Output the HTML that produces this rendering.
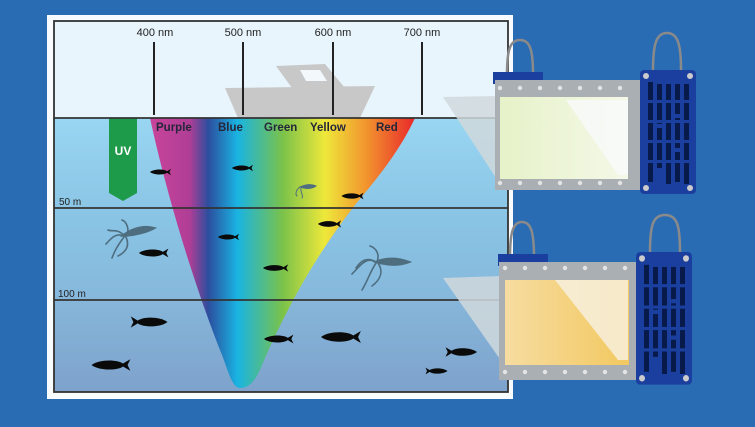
<!DOCTYPE html>
<html><head><meta charset="utf-8"><style>
html,body{margin:0;padding:0;background:#2a6cb4;}
svg{display:block;}
text{font-family:"Liberation Sans",sans-serif;}
</style></head><body>
<svg width="755" height="427" viewBox="0 0 755 427" xmlns="http://www.w3.org/2000/svg">
<defs>
<linearGradient id="w1" x1="0" y1="0" x2="0" y2="1"><stop offset="0" stop-color="#98d6f2"/><stop offset="1" stop-color="#8cc6e6"/></linearGradient>
<linearGradient id="w2" x1="0" y1="0" x2="0" y2="1"><stop offset="0" stop-color="#8ac6e6"/><stop offset="1" stop-color="#86b8dc"/></linearGradient>
<linearGradient id="w3" x1="0" y1="0" x2="0" y2="1"><stop offset="0" stop-color="#86b6da"/><stop offset="1" stop-color="#7ea2cc"/></linearGradient>
<linearGradient id="spec" x1="150" y1="0" x2="415" y2="0" gradientUnits="userSpaceOnUse">
<stop offset="0" stop-color="#c8449a"/><stop offset="0.15" stop-color="#b03e96"/><stop offset="0.22" stop-color="#2c4e9e"/><stop offset="0.33" stop-color="#19b4e2"/><stop offset="0.5" stop-color="#7ac24a"/><stop offset="0.66" stop-color="#eee83a"/><stop offset="0.82" stop-color="#f2922e"/><stop offset="1" stop-color="#e8282a"/></linearGradient>
<linearGradient id="led1" x1="0" y1="0" x2="1" y2="0"><stop offset="0" stop-color="#e6f2c8"/><stop offset="1" stop-color="#f4f8e8"/></linearGradient>
<linearGradient id="led2" x1="0" y1="0" x2="1" y2="0"><stop offset="0" stop-color="#f6dca0"/><stop offset="1" stop-color="#f2c860"/></linearGradient>
<path id="fish" d="M-10,0 C-6,-4 4,-4 7,-1 L11,-4 L9.5,0 L11,4 L7,1 C4,4 -6,4 -10,0Z" fill="#0a0a0a"/>
<g id="grille">
<rect x="0" y="0" width="56" height="124" rx="4" fill="#1a3f9e"/>
<g fill="#071a4a">
<rect x="8" y="12" width="5" height="100"/><rect x="17" y="14" width="5" height="40"/><rect x="17" y="58" width="5" height="40"/><rect x="26" y="14" width="5" height="100"/><rect x="35" y="14" width="5" height="30"/><rect x="35" y="48" width="5" height="30"/><rect x="35" y="82" width="5" height="30"/><rect x="44" y="14" width="5" height="100"/>
</g>
<g fill="#1a3f9e"><rect x="0" y="30" width="56" height="3"/><rect x="0" y="50" width="56" height="3"/><rect x="0" y="70" width="56" height="3"/><rect x="0" y="90" width="56" height="3"/></g>
<circle cx="6" cy="6" r="3" fill="#ccc"/><circle cx="50" cy="6" r="3" fill="#ccc"/><circle cx="6" cy="118" r="3" fill="#ccc"/><circle cx="50" cy="118" r="3" fill="#ccc"/>
</g>
</defs>
<rect x="47" y="15" width="466" height="384" fill="#f8fcfe"/>
<rect x="54" y="21" width="454" height="97" fill="#e8f5fc"/>
<rect x="54" y="118" width="454" height="90" fill="url(#w1)"/>
<rect x="54" y="208" width="454" height="92" fill="url(#w2)"/>
<rect x="54" y="300" width="454" height="92" fill="url(#w3)"/>
<path d="M225,88 L375,86 L360,118 L238,118Z" fill="#c8c8c8"/>
<path d="M276,66 L325,64 L345,88 L292,88Z" fill="#c8c8c8"/>
<path d="M300,70 L320,70 L327,81 L306,81Z" fill="#f2f8fc"/>
<g stroke="#222" stroke-width="2">
<line x1="154" y1="42" x2="154" y2="115"/><line x1="243" y1="42" x2="243" y2="115"/><line x1="333" y1="42" x2="333" y2="115"/><line x1="422" y1="42" x2="422" y2="115"/>
</g>
<g font-size="11" fill="#222" text-anchor="middle">
<text x="155" y="36">400 nm</text><text x="243" y="36">500 nm</text><text x="333" y="36">600 nm</text><text x="422" y="36">700 nm</text>
</g>
<path d="M150,118 L415,118 C400,150 380,175 355,205 C320,250 290,300 262,365 C256,380 250,388 240,388 C232,388 228,370 222,355 C200,300 170,210 150,118Z" fill="url(#spec)"/>
<path d="M109,118 L137,118 L137,193 L123,201 L109,193Z" fill="#1e9b4a"/>
<text x="123" y="155" font-size="12" font-weight="bold" fill="#fff" text-anchor="middle">UV</text>
<g font-size="11.5" font-weight="bold" fill="#26263a">
<text x="156" y="131">Purple</text><text x="218" y="131">Blue</text><text x="264" y="131">Green</text><text x="310" y="131">Yellow</text><text x="376" y="131">Red</text>
</g>
<g stroke="#333" stroke-width="1.8" fill="none">
<rect x="54" y="21" width="454" height="371"/>
<line x1="54" y1="118" x2="508" y2="118"/><line x1="54" y1="208" x2="508" y2="208"/><line x1="54" y1="300" x2="508" y2="300"/>
</g>
<text x="59" y="205" font-size="10" fill="#222">50 m</text>
<text x="58" y="297" font-size="10" fill="#222">100 m</text>
<g fill="none" stroke="#4e6e80" stroke-width="1.6" stroke-linecap="round">
<path d="M122,236 C135,225 148,226 155,228 C148,232 135,236 122,236Z" fill="#4e6e80"/>
<path d="M124,236 C115,232 110,240 106,244"/><path d="M124,237 C118,245 115,250 112,258"/><path d="M126,237 C130,246 126,252 118,256"/><path d="M126,236 C130,230 127,222 122,220"/><path d="M125,236 C117,228 112,232 108,230"/>
<path d="M375,262 C388,256 400,258 410,262 C400,266 388,266 375,262Z" fill="#4e6e80"/>
<path d="M376,262 C366,256 360,262 356,268"/><path d="M376,263 C370,272 368,280 362,290"/><path d="M378,263 C384,272 380,280 372,286"/><path d="M377,262 C380,254 376,248 370,246"/><path d="M376,262 C366,256 360,266 352,274"/>
<path d="M300,187 C306,184 312,184 316,186 C312,189 306,189 300,187Z" fill="#4e6e80" stroke-width="1"/>
<path d="M300,187 C296,190 295,194 297,196" stroke-width="1"/><path d="M301,188 C300,192 304,196 302,198" stroke-width="1"/>
</g>
<use href="#fish" transform="translate(160,172) scale(1.0,0.8)"/>
<use href="#fish" transform="translate(242,168) scale(1.0,0.8)"/>
<use href="#fish" transform="translate(352,196) scale(1.05,0.85)"/>
<use href="#fish" transform="translate(329,224) scale(1.1,0.9)"/>
<use href="#fish" transform="translate(228,237) scale(1.0,0.8)"/>
<use href="#fish" transform="translate(153,253) scale(1.4,1.1)"/>
<use href="#fish" transform="translate(275,268) scale(1.2,0.9)"/>
<use href="#fish" transform="translate(150,322) scale(-1.75,1.4)"/>
<use href="#fish" transform="translate(278,339) scale(1.4,1.1)"/>
<use href="#fish" transform="translate(340,337) scale(1.9,1.5)"/>
<use href="#fish" transform="translate(110,365) scale(1.85,1.45)"/>
<use href="#fish" transform="translate(462,352) scale(-1.5,1.2)"/>
<use href="#fish" transform="translate(437,371) scale(-1.05,0.85)"/>
<path d="M507,74 C507,50 510,40 520,40 C530,40 533,50 533,74" fill="none" stroke="#8a8a8a" stroke-width="2.5"/>
<path d="M653,70 C653,45 656,33 667,33 C678,33 681,45 681,70" fill="none" stroke="#8a8a8a" stroke-width="2.5"/>
<rect x="493" y="72" width="50" height="12" fill="#1a3f9e"/>
<path d="M443,97 L500,96 L500,184 Z" fill="#d0d8dc" opacity="0.85"/>
<rect x="495" y="80" width="150" height="110" fill="#a9afb3"/>
<rect x="500" y="97" width="128" height="82" fill="url(#led1)"/>
<path d="M566,100 L628,100 L628,175 L618,175Z" fill="#f8fafa" opacity="0.8"/>
<g fill="#e4e4e4"><circle cx="500" cy="88" r="2.2"/><circle cx="520" cy="88" r="2.2"/><circle cx="540" cy="88" r="2.2"/><circle cx="560" cy="88" r="2.2"/><circle cx="580" cy="88" r="2.2"/><circle cx="600" cy="88" r="2.2"/><circle cx="620" cy="88" r="2.2"/><circle cx="500" cy="183" r="2.2"/><circle cx="520" cy="183" r="2.2"/><circle cx="540" cy="183" r="2.2"/><circle cx="560" cy="183" r="2.2"/><circle cx="580" cy="183" r="2.2"/><circle cx="600" cy="183" r="2.2"/><circle cx="620" cy="183" r="2.2"/></g>
<use href="#grille" transform="translate(640,70)"/>
<path d="M510,258 C510,232 513,222 522,222 C531,222 534,232 534,258" fill="none" stroke="#8a8a8a" stroke-width="2.5"/>
<path d="M650,252 C650,225 653,215 665,215 C677,215 680,225 680,252" fill="none" stroke="#8a8a8a" stroke-width="2.5"/>
<rect x="498" y="254" width="50" height="12" fill="#1a3f9e"/>
<path d="M443,278 L502,276 L502,362 Z" fill="#d0d8dc" opacity="0.85"/>
<rect x="499" y="262" width="140" height="118" fill="#a9afb3"/>
<rect x="505" y="280" width="124" height="85" fill="url(#led2)"/>
<path d="M555,280 L628,280 L628,360 L618,360Z" fill="#f8f4ec" opacity="0.75"/>
<g fill="#e4e4e4"><circle cx="505" cy="268" r="2.2"/><circle cx="525" cy="268" r="2.2"/><circle cx="545" cy="268" r="2.2"/><circle cx="565" cy="268" r="2.2"/><circle cx="585" cy="268" r="2.2"/><circle cx="605" cy="268" r="2.2"/><circle cx="625" cy="268" r="2.2"/><circle cx="505" cy="372" r="2.2"/><circle cx="525" cy="372" r="2.2"/><circle cx="545" cy="372" r="2.2"/><circle cx="565" cy="372" r="2.2"/><circle cx="585" cy="372" r="2.2"/><circle cx="605" cy="372" r="2.2"/><circle cx="625" cy="372" r="2.2"/></g>
<use href="#grille" transform="translate(636,252) scale(1,1.07)"/>
</svg>
</body></html>
